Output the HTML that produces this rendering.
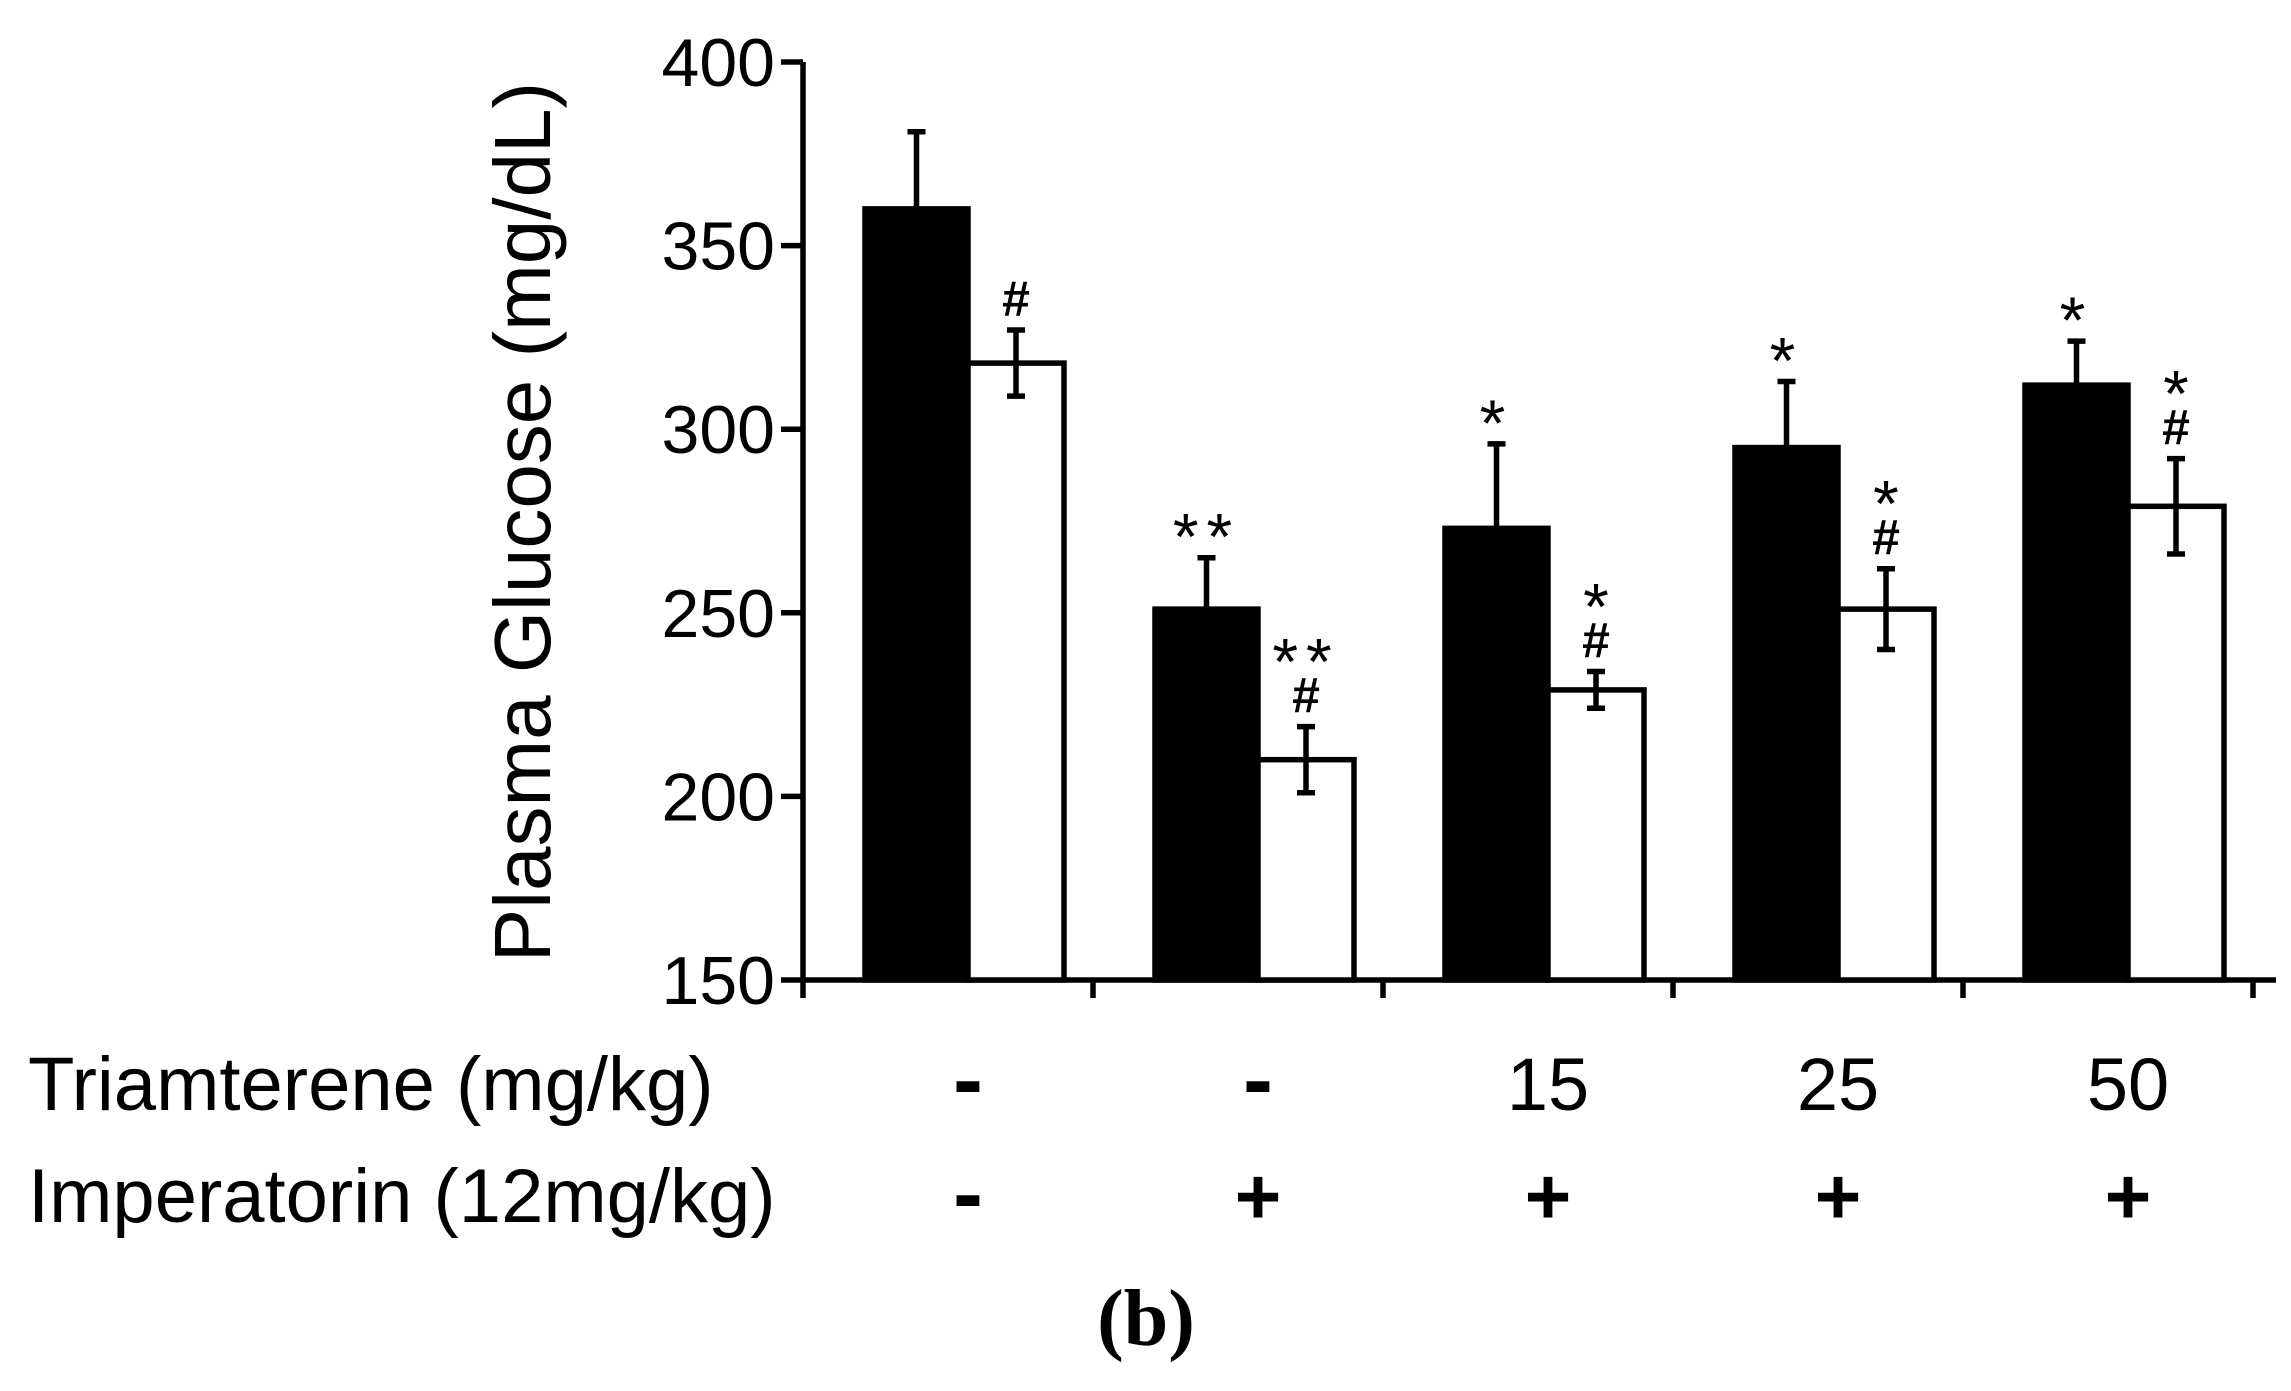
<!DOCTYPE html>
<html><head><meta charset="utf-8"><style>
html,body{margin:0;padding:0;background:#fff;}
svg{display:block;font-family:"Liberation Sans",Arial,sans-serif;}
</style></head><body>
<svg id="chart" width="2291" height="1391" viewBox="0 0 2291 1391" xmlns="http://www.w3.org/2000/svg">
<g id="axes"></g>
<g id="bars"></g>
<text transform="translate(550,522) rotate(-90)" text-anchor="middle" font-size="80">Plasma Glucose (mg/dL)</text>
<text x="28" y="1110" font-size="76">Triamterene (mg/kg)</text>
<text x="28" y="1222" font-size="76">Imperatorin (12mg/kg)</text>
<text x="1146" y="1345" text-anchor="middle" font-size="80" font-weight="bold" font-family="'Liberation Serif',serif">(b)</text>
</svg>
<script>
const categories = ["G1","G2","G3","G4","G5"];
const blackValues = [360, 251, 273, 295, 312];
const blackErrors = [21, 14, 23, 18, 12];
const whiteValues = [318, 210, 229, 251, 279];
const whiteErrors = [9, 9, 5, 11, 13];
const blackMarks = ["", "**", "*", "*", "*"];
const whiteMarks = [["#"], ["**","#"], ["*","#"], ["*","#"], ["*","#"]];
const triamtereneLabels = ["-", "-", "15", "25", "50"];
const imperatorinLabels = ["-", "+", "+", "+", "+"];
const yTicks = [150, 200, 250, 300, 350, 400];

const NS = "http://www.w3.org/2000/svg";
const X0 = 803, XEND = 2276, GW = 290, Y150 = 980, Y400 = 62;
const BW = 103, WW = 96, OFF = 62, LW = 5.5;
function y(v){ return Y150 - (v-150)/(250)*(Y150-Y400); }
function gx(i){ return X0 + i*GW; }
function el(tag, attrs, parent){ const e=document.createElementNS(NS,tag); for(const k in attrs) e.setAttribute(k,attrs[k]); parent.appendChild(e); return e; }
const axes=document.getElementById('axes'), bars=document.getElementById('bars'), svg=document.getElementById('chart');

let a=el('line',{x1:X0,y1:Y400,x2:X0,y2:Y150+18,stroke:'#000','stroke-width':LW},axes);
 
a=el('line',{x1:X0,y1:Y150,x2:XEND,y2:Y150,stroke:'#000','stroke-width':LW},axes);
 
yTicks.forEach(t=>{
  const l=el('line',{x1:X0-22,y1:y(t),x2:X0,y2:y(t),stroke:'#000','stroke-width':LW},axes);
   
  const tx=el('text',{x:X0-28,y:y(t)+24,'text-anchor':'end','font-size':68},axes); tx.textContent=t;
   
});
for(let i=1;i<=categories.length;i++){
  const l=el('line',{x1:gx(i),y1:Y150,x2:gx(i),y2:Y150+18,stroke:'#000','stroke-width':LW},axes);
   
}
categories.forEach((c,i)=>{
  const bx=gx(i)+OFF, wx=bx+BW;
  const b=el('rect',{x:bx,y:y(blackValues[i]),width:BW,height:Y150-y(blackValues[i]),fill:'#000',stroke:'#000','stroke-width':LW},bars);
   
  const w=el('rect',{x:wx,y:y(whiteValues[i]),width:WW,height:Y150-y(whiteValues[i]),fill:'#fff',stroke:'#000','stroke-width':LW},bars);
   
  const bc=bx+BW/2, wc=wx+WW/2;
  const be=y(blackValues[i]+blackErrors[i]);
  const e1=el('path',{d:`M${bc},${y(blackValues[i])}V${be}M${bc-9},${be}H${bc+9}`,stroke:'#000','stroke-width':LW,fill:'none'},bars);
   
  const wt=y(whiteValues[i]+whiteErrors[i]), wb=y(whiteValues[i]-whiteErrors[i]);
  const e2=el('path',{d:`M${wc},${wt}V${wb}M${wc-9},${wt}H${wc+9}M${wc-9},${wb}H${wc+9}`,stroke:'#000','stroke-width':LW,fill:'none'},bars);
   
  if(blackMarks[i]){
    const m=el('text',{x:bc,y:be+2,'text-anchor':'middle','font-size':66,'letter-spacing':'8'},bars); m.textContent=blackMarks[i];
     
  }
  const marks=whiteMarks[i];
  marks.slice().reverse().forEach((s,k)=>{
    const isHash=s==='#';
    const m=el('text',{x:wc,y:isHash?wt-14:wt-14-k*44+16,'text-anchor':'middle','font-size':isHash?50:66,'font-weight':isHash?'bold':'normal','letter-spacing':s.length>1?'8':'0'},bars); m.textContent=s;
     
  });
  const cx=gx(i)+OFF+BW;
  const isDash=triamtereneLabels[i]==='-';
  const t1=el('text',{x:cx,y:1110,'text-anchor':'middle','font-size':isDash?90:74,'font-weight':isDash?'bold':'normal'},svg); t1.textContent=triamtereneLabels[i];
   
  const t2=el('text',{x:cx,y:1224,'text-anchor':'middle','font-size':imperatorinLabels[i]==='-'?90:80,'font-weight':'bold'},svg); t2.textContent=imperatorinLabels[i];
   
});
</script>
</body></html>
